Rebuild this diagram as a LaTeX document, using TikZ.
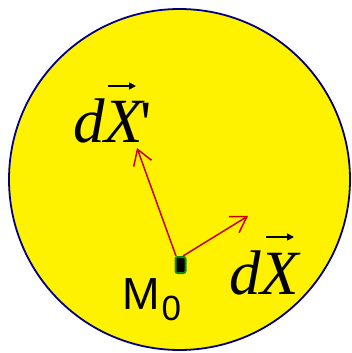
\documentclass[tikz,border=0pt]{standalone}
\usepackage{fontspec}
\setmainfont{Liberation Serif}
\newfontfamily\serifit{Liberation Serif}
\newfontfamily\sansf{Liberation Sans}
\usetikzlibrary{arrows.meta,calc}
\definecolor{navyc}{RGB}{0,0,128}
\definecolor{redc}{RGB}{200,0,0}
\definecolor{greenc}{RGB}{20,140,20}
\tikzset{
  disk/.style={circle, draw=navyc, fill=yellow, line width=1.8pt, minimum size=341pt, inner sep=0pt},
  marker/.style={rectangle, draw=greenc, fill=black, line width=2pt, minimum width=10pt, minimum height=16pt, inner sep=0pt, rounded corners=2pt},
  vecarrow/.style={draw=redc, line width=1.5pt, -{Straight Barb[length=15pt,width=19pt,line width=1.5pt]}},
  bararrow/.style={draw=black, line width=1.6pt, -{Triangle[length=7pt,width=7pt]}},
  bigmath/.style={anchor=base west, inner sep=0pt, font=\serifit\fontsize{63}{63}\selectfont\itshape},
}
\begin{document}
\begin{tikzpicture}[x=1pt,y=-1pt]
\useasboundingbox (0,0) rectangle (351,353);
\node[disk] (d) at (179.5,179.5) {};
\node[marker] (m) at (180.5,265) {};
\coordinate (sL) at (176,256);
\coordinate (sR) at (183,256);
\coordinate (tL) at (137,148);
\coordinate (tR) at (248,216);
\draw[vecarrow] (sL) -- (tL);
\draw[vecarrow] (sR) -- (tR);
\node[bigmath] (dxp) at (73,142) {dX\upshape\kern-3pt\raisebox{-2pt}{\textquotesingle}};
\node[bigmath] (dx) at (229,294) {dX};
\coordinate (b1s) at (108,86);
\coordinate (b1e) at (136,86);
\coordinate (b2s) at (266,237);
\coordinate (b2e) at (294,237);
\draw[bararrow] (b1s) -- (b1e);
\draw[bararrow] (b2s) -- (b2e);
\node[anchor=base west, inner sep=0pt, font=\sansf\fontsize{45}{45}\selectfont] (M) at (122.5,309.5) {M\kern1.5pt\raisebox{-11pt}{\fontsize{35}{35}\selectfont 0}};
\end{tikzpicture}
\end{document}
